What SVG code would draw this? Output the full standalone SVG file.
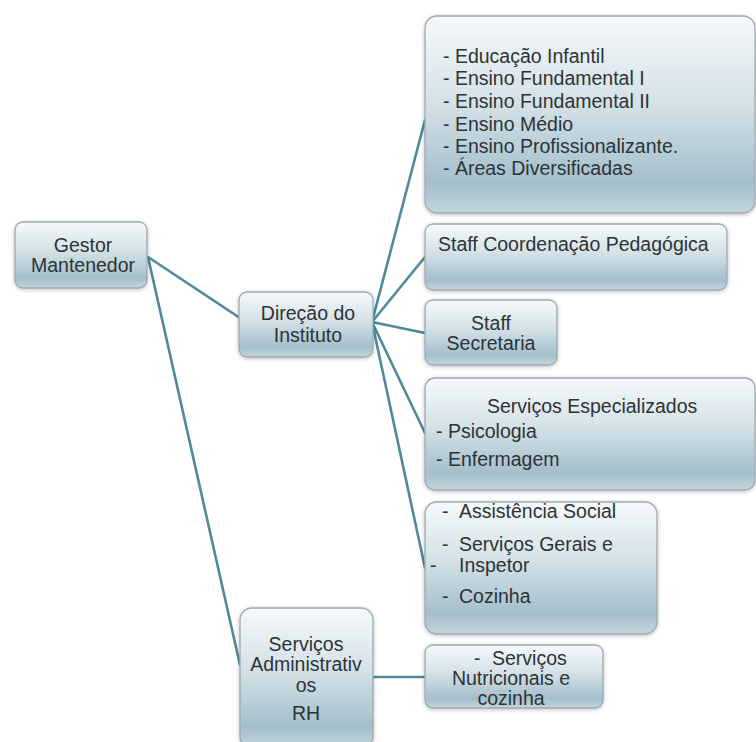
<svg xmlns="http://www.w3.org/2000/svg" width="756" height="742" viewBox="0 0 756 742">
<defs>
<linearGradient id="g" x1="0" y1="0" x2="0" y2="1">
<stop offset="0" stop-color="#f6f9fa"/>
<stop offset="0.45" stop-color="#d3e1e7"/>
<stop offset="0.85" stop-color="#a3bfcb"/>
<stop offset="1" stop-color="#c3d6de"/>
</linearGradient>
<filter id="sh" x="-10%" y="-10%" width="120%" height="130%">
<feGaussianBlur in="SourceAlpha" stdDeviation="2"/>
<feOffset dy="1"/>
<feComponentTransfer><feFuncA type="linear" slope="0.25"/></feComponentTransfer>
<feMerge><feMergeNode/><feMergeNode in="SourceGraphic"/></feMerge>
</filter>
</defs>
<style>
.box{fill:url(#g);stroke:#9ea9ae;stroke-width:1.3;filter:url(#sh)}
text{font-family:"Liberation Sans",Arial,sans-serif;font-size:19.5px;fill:#2e3336}
.c{text-anchor:middle}
.ln{stroke:#4d8a9b;stroke-width:2.6;fill:none;stroke-linecap:round}
</style>
<rect width="756" height="742" fill="#ffffff"/>
<g id="connectors">
<line class="ln" x1="148" y1="257" x2="240" y2="318"/>
<line class="ln" x1="148" y1="257" x2="240" y2="665"/>
<line class="ln" x1="372" y1="322" x2="425" y2="120"/>
<line class="ln" x1="372" y1="322" x2="425" y2="257"/>
<line class="ln" x1="372" y1="322" x2="425" y2="333"/>
<line class="ln" x1="372" y1="322" x2="425" y2="433"/>
<line class="ln" x1="372" y1="322" x2="425" y2="568"/>
<line class="ln" x1="373" y1="677" x2="425" y2="677"/>
</g>
<g id="gestor">
<rect class="box" x="15" y="222" width="132" height="66" rx="8"/>
<text class="c" x="83" y="252">Gestor</text>
<text class="c" x="83" y="272">Mantenedor</text>
</g>
<g id="direcao">
<rect class="box" x="239" y="292" width="134" height="65" rx="8"/>
<text class="c" x="308" y="320">Direção do</text>
<text class="c" x="308" y="342">Instituto</text>
</g>
<g id="ensino">
<rect class="box" x="425" y="16" width="330" height="197" rx="12"/>
<text x="443" y="63">- Educação Infantil</text>
<text x="443" y="85">- Ensino Fundamental I</text>
<text x="443" y="108">- Ensino Fundamental II</text>
<text x="443" y="131">- Ensino Médio</text>
<text x="443" y="153">- Ensino Profissionalizante.</text>
<text x="443" y="175">- Áreas Diversificadas</text>
</g>
<g id="coord">
<rect class="box" x="425" y="224" width="302" height="66" rx="8"/>
<text x="438" y="251">Staff Coordenação Pedagógica</text>
</g>
<g id="secretaria">
<rect class="box" x="425" y="300" width="132" height="65" rx="8"/>
<text class="c" x="491" y="330">Staff</text>
<text class="c" x="491" y="350">Secretaria</text>
</g>
<g id="especializados">
<rect class="box" x="425" y="378" width="330" height="112" rx="10"/>
<text x="487" y="413">Serviços Especializados</text>
<text x="436" y="438">- Psicologia</text>
<text x="436" y="466">- Enfermagem</text>
</g>
<g id="assistencia">
<rect class="box" x="425" y="502" width="232" height="132" rx="12"/>
<text x="442" y="518">-</text>
<text x="459" y="518">Assistência Social</text>
<text x="442" y="551">-</text>
<text x="459" y="551">Serviços Gerais e</text>
<text x="430" y="572">-</text>
<text x="459" y="572">Inspetor</text>
<text x="442" y="603">-</text>
<text x="459" y="603">Cozinha</text>
</g>
<g id="administrativos">
<rect class="box" x="240" y="608" width="133" height="140" rx="12"/>
<text class="c" x="306" y="651">Serviços</text>
<text class="c" x="306" y="671">Administrativ</text>
<text class="c" x="306" y="692">os</text>
<text class="c" x="306" y="720">RH</text>
</g>
<g id="nutricionais">
<rect class="box" x="425" y="645" width="178" height="63" rx="8"/>
<text x="474" y="665">-</text>
<text x="492" y="665">Serviços</text>
<text class="c" x="511" y="685">Nutricionais e</text>
<text class="c" x="511" y="705">cozinha</text>
</g>
</svg>
